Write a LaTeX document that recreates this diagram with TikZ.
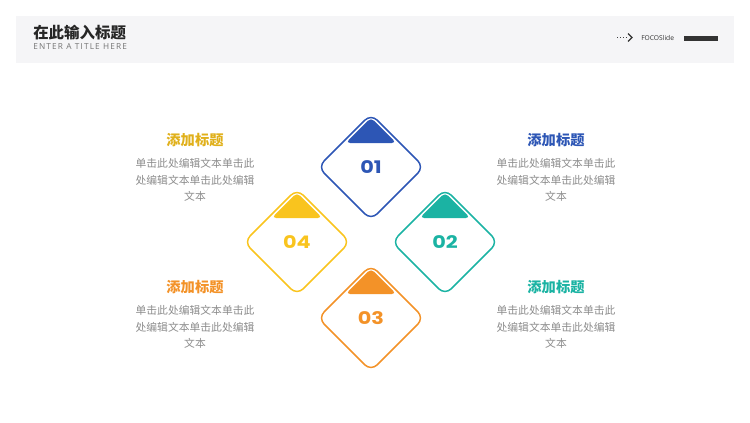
\documentclass[tikz,border=0pt]{standalone}
\usepackage{fontspec}
\setmainfont{Open Sans}
\newfontfamily\cjk{Noto Sans CJK SC}
\newfontfamily\numfont{Poppins}
\usetikzlibrary{calc}
\definecolor{cblue}{HTML}{2D56B5}
\definecolor{cteal}{HTML}{1BB3A3}
\definecolor{corange}{HTML}{F39228}
\definecolor{cyellow}{HTML}{F9C41E}
\definecolor{band}{HTML}{F5F5F7}
\definecolor{bodygray}{HTML}{8C8C8C}
\definecolor{darkbar}{HTML}{333333}
\tikzset{
  headtitle/.style={font=\cjk\bfseries\fontsize{11.6}{13}\selectfont, text=black!85, anchor=west, inner sep=0},
  subtitle/.style={font=\fontsize{6.2}{7}\selectfont\addfontfeatures{LetterSpace=14}, text=black!55, anchor=west, inner sep=0},
  itemtitle/.style={font=\cjk\bfseries\fontsize{10.7}{12}\selectfont, inner sep=0},
  itembody/.style={font=\cjk\fontsize{8.1}{12.4}\selectfont, text=bodygray, align=center, inner sep=0},
  numlabel/.style={font=\numfont\bfseries\fontsize{13}{14}\selectfont, inner sep=0, xscale=1.2},
  diamondline/.style={line width=1.1, rounded corners=6.5}
}
\begin{document}
\begin{tikzpicture}[x=0.75pt,y=-0.75pt]
\useasboundingbox (0,0) rectangle (750,422);
% header band
\fill[band] (16,16) rectangle (734,63);
\node[headtitle] (ht) at (33,33) {在此输入标题};
\node[subtitle] (st) at (33,46.5) {ENTER A TITLE HERE};
\coordinate (ar1) at (617,37.5);
\coordinate (ar2) at (627,37.5);
\draw[black!75, line width=0.8, dash pattern=on 1 off 1.2] (ar1) -- (ar2);
\draw[black!80, line width=0.9] (628,33.5) -- (632,37.5) -- (628,41.5);
\node[font=\fontsize{5}{6}\selectfont, text=black!80, anchor=west, inner sep=0] (brand) at (641,37.5) {FOCOSlide};
\fill[darkbar] (684,35.5) rectangle (718,40.5);

% diamonds
\foreach \cx/\cy/\col/\lab/\nm in {371/167/cblue/01/da, 445/242/cteal/02/db, 371/318/corange/03/dc, 297/242/cyellow/04/dd}{
  \coordinate (\nm) at (\cx,\cy);
  \fill[\col, rounded corners=3.5] ($(\nm)+(-25.5,-24)$) -- ($(\nm)+(0,-49.5)$) -- ($(\nm)+(25.5,-24)$) -- cycle;
  \draw[\col, diamondline] ($(\nm)+(0,-53)$) -- ($(\nm)+(53,0)$) -- ($(\nm)+(0,53)$) -- ($(\nm)+(-53,0)$) -- cycle;
  \node[numlabel, text=\col] (\nm n) at ($(\nm)+(0,0.5)$) {\lab};
}

% text blocks
\node[itemtitle, text=cyellow!90!black] (t1) at (195,140) {添加标题};
\node[itembody] (b1) at (195,180) {单击此处编辑文本单击此\\处编辑文本单击此处编辑\\文本};
\node[itemtitle, text=cblue] (t2) at (556,140) {添加标题};
\node[itembody] (b2) at (556,180) {单击此处编辑文本单击此\\处编辑文本单击此处编辑\\文本};
\node[itemtitle, text=corange] (t3) at (195,287) {添加标题};
\node[itembody] (b3) at (195,327) {单击此处编辑文本单击此\\处编辑文本单击此处编辑\\文本};
\node[itemtitle, text=cteal] (t4) at (556,287) {添加标题};
\node[itembody] (b4) at (556,327) {单击此处编辑文本单击此\\处编辑文本单击此处编辑\\文本};
\end{tikzpicture}
\end{document}
